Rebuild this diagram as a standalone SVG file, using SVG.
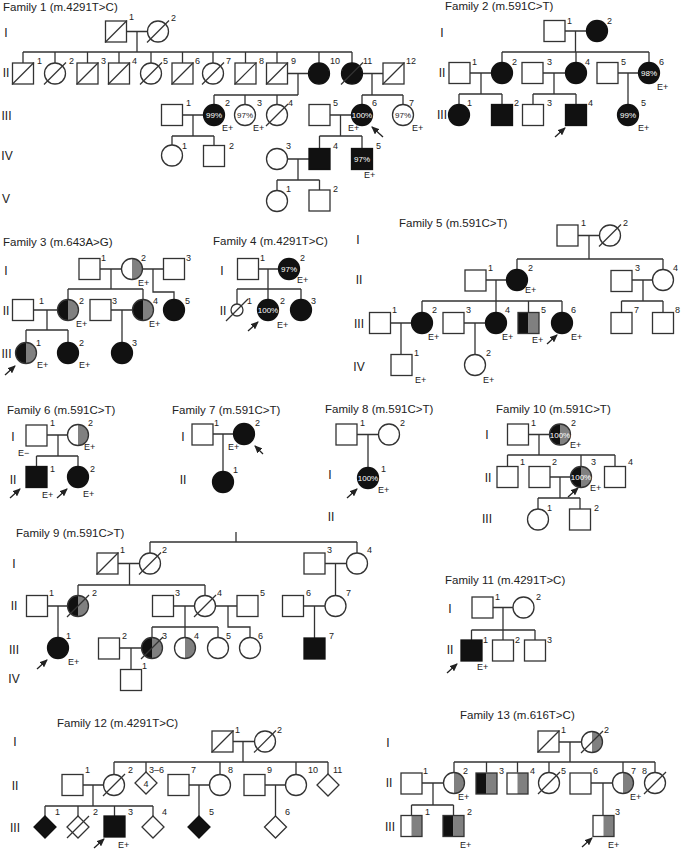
<svg xmlns="http://www.w3.org/2000/svg" width="681" height="849" viewBox="0 0 681 849">
<style>
.l{stroke:#333;stroke-width:1.3;fill:none}
.o{fill:#fff;stroke:#333;stroke-width:1.3}
.f{fill:#111;stroke:#111;stroke-width:1.3}
.ar{stroke:#222;stroke-width:1.3;marker-end:url(#ah)}
text{font-family:"Liberation Sans",Arial,Helvetica,sans-serif;fill:#222}
.ti{font-size:11.5px}
.gn{font-size:12px;text-anchor:middle}
.n{font-size:9px}
.p{font-size:8px;text-anchor:middle}
.w{fill:#fff}
</style>
<defs>
<marker id="ah" markerWidth="8" markerHeight="7" refX="7" refY="3.5" orient="auto" markerUnits="userSpaceOnUse"><path d="M0,0L8,3.5L0,7Z" fill="#222"/></marker>
<g id="sq"><rect x="-10.5" y="-10.5" width="21" height="21"/></g>
<g id="ci"><circle r="10.5"/></g>
<g id="di"><polygon points="0,-11 11,0 0,11 -11,0"/></g>
<g id="sl"><line x1="-11" y1="11" x2="11" y2="-11" stroke="#333" stroke-width="1.2"/></g>
<g id="cBG"><path d="M0,-10.5A10.5,10.5 0 0 0 0,10.5Z" fill="#111"/><path d="M0,-10.5A10.5,10.5 0 0 1 0,10.5Z" fill="#808080"/><circle r="10.5" fill="none" stroke="#333" stroke-width="1.3"/></g>
<g id="cWG"><circle r="10.5" fill="#fff"/><path d="M0,-10.5A10.5,10.5 0 0 1 0,10.5Z" fill="#808080"/><circle r="10.5" fill="none" stroke="#333" stroke-width="1.3"/></g>
<g id="sBG"><rect x="-10.5" y="-10.5" width="10.5" height="21" fill="#111"/><rect x="0" y="-10.5" width="10.5" height="21" fill="#808080"/><rect x="-10.5" y="-10.5" width="21" height="21" fill="none" stroke="#333" stroke-width="1.3"/></g>
<g id="sWG"><rect x="-10.5" y="-10.5" width="21" height="21" fill="#fff"/><rect x="0" y="-10.5" width="10.5" height="21" fill="#808080"/><rect x="-10.5" y="-10.5" width="21" height="21" fill="none" stroke="#333" stroke-width="1.3"/></g>
</defs>

<g id="titles">
<text class="ti" x="3" y="11">Family 1 (m.4291T&gt;C)</text>
<text class="ti" x="445" y="10">Family 2 (m.591C&gt;T)</text>
<text class="ti" x="3" y="246">Family 3 (m.643A&gt;G)</text>
<text class="ti" x="213" y="245">Family 4 (m.4291T&gt;C)</text>
<text class="ti" x="399" y="227">Family 5 (m.591C&gt;T)</text>
<text class="ti" x="7" y="414">Family 6 (m.591C&gt;T)</text>
<text class="ti" x="172" y="414">Family 7 (m.591C&gt;T)</text>
<text class="ti" x="325" y="413">Family 8 (m.591C&gt;T)</text>
<text class="ti" x="496" y="413">Family 10 (m.591C&gt;T)</text>
<text class="ti" x="16" y="537">Family 9 (m.591C&gt;T)</text>
<text class="ti" x="445" y="584">Family 11 (m.4291T&gt;C)</text>
<text class="ti" x="57" y="727">Family 12 (m.4291T&gt;C)</text>
<text class="ti" x="460" y="719">Family 13 (m.616T&gt;C)</text>
</g>

<g id="generations">
<text class="gn" x="6" y="37">I</text><text class="gn" x="6" y="77">II</text><text class="gn" x="6.5" y="119.5">III</text><text class="gn" x="7" y="159.5">IV</text><text class="gn" x="6" y="202.5">V</text>
<text class="gn" x="442" y="37">I</text><text class="gn" x="442" y="77">II</text><text class="gn" x="442" y="119">III</text>
<text class="gn" x="6" y="274.5">I</text><text class="gn" x="6" y="314.5">II</text><text class="gn" x="6.5" y="358">III</text>
<text class="gn" x="222" y="274.5">I</text><text class="gn" x="223" y="314.5">II</text>
<text class="gn" x="358" y="244">I</text><text class="gn" x="359" y="284">II</text><text class="gn" x="359" y="328">III</text><text class="gn" x="359" y="371">IV</text>
<text class="gn" x="13" y="441">I</text><text class="gn" x="13" y="484">II</text>
<text class="gn" x="183" y="441">I</text><text class="gn" x="183" y="484">II</text>
<text class="gn" x="330" y="479">I</text><text class="gn" x="331" y="521">II</text>
<text class="gn" x="487" y="439">I</text><text class="gn" x="488" y="482">II</text><text class="gn" x="487" y="523">III</text>
<text class="gn" x="14" y="568">I</text><text class="gn" x="14" y="610">II</text><text class="gn" x="14" y="654">III</text><text class="gn" x="14" y="683">IV</text>
<text class="gn" x="450" y="613">I</text><text class="gn" x="450" y="654">II</text>
<text class="gn" x="15" y="746">I</text><text class="gn" x="15" y="790">II</text><text class="gn" x="15" y="832">III</text>
<text class="gn" x="388" y="747">I</text><text class="gn" x="389" y="787">II</text><text class="gn" x="390" y="831">III</text>
</g>

<g id="connectors" class="l">
<path d="M127,31.5H148M137,31.5V52M23,52H352M23,52V63M55,52V63M87.5,52V63M119,52V63M151,52V63M182.5,52V63M213,52V63M245.5,52V63M277,52V63M319,52V63M352,52V63M362,73.5H383M372,73.5V95M362,95H403M362,95V104.5M403,95V104.5M287.5,73.5H308.5M298,73.5V95M214,95H298M214,95V104.5M245,95V104.5M277,95V104.5M182.5,115H203.5M193,115V136M172,136H214M172,136V145M214,136V145.5M330,115H351.5M340.5,115V136M319.5,136H362M319.5,136V148.5M362,136V148.5M287.5,159H309M298,159V180M277,180H319.5M277,180V190.5M319.5,180V190"/>
<path d="M565,31H586.5M575.5,31V52M502,52H649M502,52V62.5M576,52V62.5M649,52V62.5M470,73H491.5M481,73V94M459,94H502M459,94V104.5M502,94V104.5M543,73H565.5M554,73V94M533,94H576M533,94V104.5M576,94V104.5M618,73H638.5M628,73V104.5"/>
<path d="M100,269H121.5M142.5,269H163.5M111,269V289M68,289H143M68,289V299.5M143,289V299.5M153,269V292H174V299.5M33.5,310H57.5M47,310V330M26,330H68M26,330V342.5M68,330V342.5M111,310H132.5M122,310V342.5"/>
<path d="M258.5,269H278.5M268,269V289M237,289H301M237,289V304M268,289V299.5M301,289V299.5"/>
<path d="M578,235.5H599.5M589,235.5V259M517,259H663M517,259V269.5M663,259V269.5M486,280H506.5M496,280V301M422,301H562M422,301V312.5M496,301V312.5M528.5,301V312.5M562,301V312.5M632,280H652.5M643,280V301M621.5,301H663M621.5,301V312.5M663,301V312.5M390.5,323H411.5M401,323V354.5M464,323H485.5M475,323V354.5"/>
<path d="M47,435H67.5M58,435V456M36.5,456H78M36.5,456V466.5M78,456V466.5"/>
<path d="M213,434H233.5M223,434V471.5"/>
<path d="M357,434.5H378.5M368,434.5V467.5"/>
<path d="M528.5,434.5H549.5M539,434.5V455M507.5,455H615M507.5,455V466.5M581,455V466.5M615,455V466.5M550,477H570.5M560,477V498M538,498H580M538,498V509M580,498V509"/>
<path d="M236,532V542M150,542H357M150,542V553M357,542V553M118,563.5H139.5M129.5,563.5V585M78,585H205M78,585V595.5M205,585V595.5M325,563.5H346.5M335.5,563.5V595.5M47.5,606H67.5M58,606V637.5M173.5,606H194.5M185,606V627M152,627H218M152,627V637.5M185,627V637.5M218,627V637.5M215.5,606H237M228,606V627H250V637.5M303.5,606H325M314.5,606V638M119.5,648H141.5M131,648V669.5"/>
<path d="M493,607.5H513M503,607.5V630M471.5,630H535M471.5,630V640M503,630V640M535,630V640"/>
<path d="M233,741.5H254.5M243,741.5V762M114,762H328M114,762V774.5M146,762V772M220,762V774.5M296,762V774.5M328,762V774M83,785H103.5M93,785V806M45,806H153M45,806V816M78,806V816M114.5,806V816M153,806V816M189,785H209.5M199,785V816M265,785H285.5M275.5,785V816"/>
<path d="M559,742H581.5M570,742V762M454,762H655M454,762V772.5M486.5,762V772.5M517.5,762V772.5M549,762V772.5M623,762V772.5M655,762V772.5M422,783H443.5M433,783V805M411.5,805H453.5M411.5,805V815.5M453.5,805V815.5M591,783H612.5M603,783V815.5"/>
</g>

<g id="arrows">
<line class="ar" x1="383" y1="137" x2="372" y2="127"/>
<line class="ar" x1="555" y1="137" x2="565" y2="128"/>
<line class="ar" x1="5" y1="375" x2="15" y2="366"/>
<line class="ar" x1="248" y1="331" x2="258" y2="322"/>
<line class="ar" x1="547" y1="344" x2="557" y2="335"/>
<line class="ar" x1="10" y1="498" x2="20" y2="489"/>
<line class="ar" x1="57" y1="498" x2="67" y2="489"/>
<line class="ar" x1="263" y1="454" x2="255" y2="446"/>
<line class="ar" x1="347" y1="498" x2="357" y2="489"/>
<line class="ar" x1="568" y1="497" x2="578" y2="488"/>
<line class="ar" x1="37" y1="669" x2="47" y2="660"/>
<line class="ar" x1="447" y1="673" x2="457" y2="664"/>
<line class="ar" x1="94" y1="848" x2="104" y2="839"/>
<line class="ar" x1="582" y1="847" x2="592" y2="838"/>
</g>

<!-- Family 1 -->
<g id="f1-I-1"><use class="o" href="#sq" x="116" y="31.5"/><use href="#sl" x="116" y="31.5"/><text class="n" x="129" y="20">1</text></g>
<g id="f1-I-2"><use class="o" href="#ci" x="158" y="31.5"/><use href="#sl" x="158" y="31.5"/><text class="n" x="171" y="21">2</text></g>
<g id="f1-II-1"><use class="o" href="#sq" x="23" y="73.5"/><use href="#sl" x="23" y="73.5"/><text class="n" x="37" y="64">1</text></g>
<g id="f1-II-2"><use class="o" href="#ci" x="55" y="73.5"/><use href="#sl" x="55" y="73.5"/><text class="n" x="69" y="64">2</text></g>
<g id="f1-II-3"><use class="o" href="#sq" x="87.5" y="73.5"/><use href="#sl" x="87.5" y="73.5"/><text class="n" x="101" y="64">3</text></g>
<g id="f1-II-4"><use class="o" href="#sq" x="119" y="73.5"/><use href="#sl" x="119" y="73.5"/><text class="n" x="132" y="64">4</text></g>
<g id="f1-II-5"><use class="o" href="#ci" x="151" y="73.5"/><use href="#sl" x="151" y="73.5"/><text class="n" x="163" y="64">5</text></g>
<g id="f1-II-6"><use class="o" href="#sq" x="182.5" y="73.5"/><use href="#sl" x="182.5" y="73.5"/><text class="n" x="195" y="64">6</text></g>
<g id="f1-II-7"><use class="o" href="#ci" x="213" y="73.5"/><use href="#sl" x="213" y="73.5"/><text class="n" x="226" y="64">7</text></g>
<g id="f1-II-8"><use class="o" href="#sq" x="245.5" y="73.5"/><use href="#sl" x="245.5" y="73.5"/><text class="n" x="259" y="64">8</text></g>
<g id="f1-II-9"><use class="o" href="#sq" x="277" y="73.5"/><use href="#sl" x="277" y="73.5"/><text class="n" x="291" y="64">9</text></g>
<g id="f1-II-10"><use class="f" href="#ci" x="319" y="73.5"/><text class="n" x="330" y="64">10</text></g>
<g id="f1-II-11"><use class="f" href="#ci" x="352" y="73.5"/><use href="#sl" x="352" y="73.5"/><text class="n" x="363" y="64">11</text></g>
<g id="f1-II-12"><use class="o" href="#sq" x="393.5" y="73.5"/><use href="#sl" x="393.5" y="73.5"/><text class="n" x="406" y="64">12</text></g>
<g id="f1-III-1"><use class="o" href="#sq" x="172" y="115"/><text class="n" x="186" y="106">1</text></g>
<g id="f1-III-2"><use class="f" href="#ci" x="214" y="115"/><text class="p w" x="214" y="118">99%</text><text class="n" x="225" y="106">2</text><text class="n" x="222" y="131">E+</text></g>
<g id="f1-III-3"><use class="o" href="#ci" x="245" y="115"/><text class="p" x="245" y="118">97%</text><text class="n" x="257" y="106">3</text><text class="n" x="253" y="131">E+</text></g>
<g id="f1-III-4"><use class="o" href="#ci" x="277" y="115"/><use href="#sl" x="277" y="115"/><text class="n" x="288" y="106">4</text></g>
<g id="f1-III-5"><use class="o" href="#sq" x="319.5" y="115"/><text class="n" x="333" y="106">5</text></g>
<g id="f1-III-6"><use class="f" href="#ci" x="362" y="115"/><text class="p w" x="362" y="118">100%</text><text class="n" x="372" y="106">6</text><text class="n" x="348" y="131">E+</text></g>
<g id="f1-III-7"><use class="o" href="#ci" x="403" y="115"/><text class="p" x="403" y="118">97%</text><text class="n" x="409" y="106">7</text><text class="n" x="412" y="131">E+</text></g>
<g id="f1-IV-1"><use class="o" href="#ci" x="172" y="155.5"/><text class="n" x="182" y="149">1</text></g>
<g id="f1-IV-2"><use class="o" href="#sq" x="214" y="156"/><text class="n" x="229" y="149">2</text></g>
<g id="f1-IV-3"><use class="o" href="#ci" x="277" y="159"/><text class="n" x="286" y="149">3</text></g>
<g id="f1-IV-4"><use class="f" href="#sq" x="319.5" y="159"/><text class="n" x="333" y="149">4</text></g>
<g id="f1-IV-5"><use class="f" href="#sq" x="362" y="159"/><text class="p w" x="362" y="162">97%</text><text class="n" x="376" y="149">5</text><text class="n" x="364" y="178">E+</text></g>
<g id="f1-V-1"><use class="o" href="#ci" x="277" y="201"/><text class="n" x="286" y="192">1</text></g>
<g id="f1-V-2"><use class="o" href="#sq" x="319.5" y="200.5"/><text class="n" x="333" y="192">2</text></g>

<!-- Family 2 -->
<g id="f2-I-1"><use class="o" href="#sq" x="554.5" y="31"/><text class="n" x="567" y="24">1</text></g>
<g id="f2-I-2"><use class="f" href="#ci" x="597" y="31"/><text class="n" x="607" y="24">2</text></g>
<g id="f2-II-1"><use class="o" href="#sq" x="459.5" y="73"/><text class="n" x="472" y="65">1</text></g>
<g id="f2-II-2"><use class="f" href="#ci" x="502" y="73"/><text class="n" x="512" y="65">2</text></g>
<g id="f2-II-3"><use class="o" href="#sq" x="532.5" y="73"/><text class="n" x="547" y="65">3</text></g>
<g id="f2-II-4"><use class="f" href="#ci" x="576" y="73"/><text class="n" x="585" y="65">4</text></g>
<g id="f2-II-5"><use class="o" href="#sq" x="607.5" y="73"/><text class="n" x="621" y="65">5</text></g>
<g id="f2-II-6"><use class="f" href="#ci" x="649" y="73"/><text class="p w" x="649" y="76">98%</text><text class="n" x="659" y="65">6</text><text class="n" x="657" y="90">E+</text></g>
<g id="f2-III-1"><use class="f" href="#ci" x="459" y="115"/><text class="n" x="467" y="106">1</text></g>
<g id="f2-III-2"><use class="f" href="#sq" x="502" y="115"/><text class="n" x="514" y="106">2</text></g>
<g id="f2-III-3"><use class="o" href="#sq" x="533" y="115"/><text class="n" x="547" y="106">3</text></g>
<g id="f2-III-4"><use class="f" href="#sq" x="576" y="115"/><text class="n" x="588" y="106">4</text></g>
<g id="f2-III-5"><use class="f" href="#ci" x="628" y="115"/><text class="p w" x="628" y="118">99%</text><text class="n" x="641" y="106">5</text><text class="n" x="638" y="131">E+</text></g>

<!-- Family 3 -->
<g id="f3-I-1"><use class="o" href="#sq" x="89.5" y="269"/><text class="n" x="101" y="261">1</text></g>
<g id="f3-I-2"><use href="#cWG" x="132" y="269"/><text class="n" x="141" y="261">2</text><text class="n" x="138" y="286">E+</text></g>
<g id="f3-I-3"><use class="o" href="#sq" x="174" y="269"/><text class="n" x="186" y="261">3</text></g>
<g id="f3-II-1"><use class="o" href="#sq" x="23" y="310"/><text class="n" x="39" y="304">1</text></g>
<g id="f3-II-2"><use href="#cBG" x="68" y="310"/><text class="n" x="79" y="304">2</text><text class="n" x="76" y="327">E+</text></g>
<g id="f3-II-3"><use class="o" href="#sq" x="100.5" y="310"/><text class="n" x="112" y="304">3</text></g>
<g id="f3-II-4"><use href="#cBG" x="143" y="310"/><text class="n" x="153" y="304">4</text><text class="n" x="149" y="327">E+</text></g>
<g id="f3-II-5"><use class="f" href="#ci" x="174" y="310"/><text class="n" x="185" y="304">5</text></g>
<g id="f3-III-1"><use href="#cBG" x="26" y="353"/><text class="n" x="36" y="346">1</text><text class="n" x="37" y="368">E+</text></g>
<g id="f3-III-2"><use class="f" href="#ci" x="68" y="353"/><text class="n" x="79" y="346">2</text><text class="n" x="79" y="368">E+</text></g>
<g id="f3-III-3"><use class="f" href="#ci" x="122" y="353"/><text class="n" x="132" y="346">3</text></g>

<!-- Family 4 -->
<g id="f4-I-1"><use class="o" href="#sq" x="248" y="269"/><text class="n" x="260" y="261">1</text></g>
<g id="f4-I-2"><use class="f" href="#ci" x="289" y="269"/><text class="p w" x="289" y="272">97%</text><text class="n" x="300" y="261">2</text><text class="n" x="297" y="283">E+</text></g>
<g id="f4-II-1"><circle class="o" cx="237" cy="310" r="6"/><use href="#sl" x="237" y="310"/><text class="n" x="247" y="304">1</text></g>
<g id="f4-II-2"><use class="f" href="#ci" x="268" y="310"/><text class="p w" x="268" y="313">100%</text><text class="n" x="280" y="304">2</text><text class="n" x="277" y="328">E+</text></g>
<g id="f4-II-3"><use class="f" href="#ci" x="301" y="310"/><text class="n" x="311" y="304">3</text></g>

<!-- Family 5 -->
<g id="f5-I-1"><use class="o" href="#sq" x="567.5" y="235.5"/><text class="n" x="581" y="226">1</text></g>
<g id="f5-I-2"><use class="o" href="#ci" x="610" y="235.5"/><use href="#sl" x="610" y="235.5"/><text class="n" x="623" y="226">2</text></g>
<g id="f5-II-1"><use class="o" href="#sq" x="475.5" y="280.5"/><text class="n" x="488" y="271">1</text></g>
<g id="f5-II-2"><use class="f" href="#ci" x="517" y="280"/><text class="n" x="528" y="271">2</text><text class="n" x="525" y="293">E+</text></g>
<g id="f5-II-3"><use class="o" href="#sq" x="621.5" y="281"/><text class="n" x="635" y="271">3</text></g>
<g id="f5-II-4"><use class="o" href="#ci" x="663" y="280"/><text class="n" x="673" y="271">4</text></g>
<g id="f5-III-1"><use class="o" href="#sq" x="380" y="323"/><text class="n" x="392" y="313">1</text></g>
<g id="f5-III-2"><use class="f" href="#ci" x="422" y="323"/><text class="n" x="432" y="313">2</text><text class="n" x="428" y="340">E+</text></g>
<g id="f5-III-3"><use class="o" href="#sq" x="453.5" y="323"/><text class="n" x="466" y="313">3</text></g>
<g id="f5-III-4"><use class="f" href="#ci" x="496" y="323"/><text class="n" x="505" y="313">4</text><text class="n" x="502" y="340">E+</text></g>
<g id="f5-III-5"><use href="#sBG" x="528.5" y="323"/><text class="n" x="541" y="313">5</text><text class="n" x="532" y="343">E+</text></g>
<g id="f5-III-6"><use class="f" href="#ci" x="562" y="323"/><text class="n" x="571" y="313">6</text><text class="n" x="571" y="340">E+</text></g>
<g id="f5-III-7"><use class="o" href="#sq" x="621.5" y="323"/><text class="n" x="634" y="313">7</text></g>
<g id="f5-III-8"><use class="o" href="#sq" x="663" y="323"/><text class="n" x="675" y="313">8</text></g>
<g id="f5-IV-1"><use class="o" href="#sq" x="401.5" y="365"/><text class="n" x="414" y="356">1</text><text class="n" x="415" y="383">E+</text></g>
<g id="f5-IV-2"><use class="o" href="#ci" x="475" y="365"/><text class="n" x="486" y="356">2</text><text class="n" x="483" y="383">E+</text></g>

<!-- Family 6 -->
<g id="f6-I-1"><use class="o" href="#sq" x="36.5" y="435.5"/><text class="n" x="50" y="426">1</text><text class="n" x="18" y="456">E−</text></g>
<g id="f6-I-2"><use href="#cWG" x="78" y="435"/><text class="n" x="88" y="426">2</text><text class="n" x="84" y="450">E+</text></g>
<g id="f6-II-1"><use class="f" href="#sq" x="36.5" y="477"/><text class="n" x="50" y="472">1</text><text class="n" x="42" y="498">E+</text></g>
<g id="f6-II-2"><use class="f" href="#ci" x="78" y="477"/><text class="n" x="90" y="472">2</text><text class="n" x="83" y="497">E+</text></g>

<!-- Family 7 -->
<g id="f7-I-1"><use class="o" href="#sq" x="202.5" y="434.5"/><text class="n" x="214" y="426">1</text></g>
<g id="f7-I-2"><use class="f" href="#ci" x="244" y="434"/><text class="n" x="255" y="426">2</text><text class="n" x="228" y="450">E+</text></g>
<g id="f7-II-1"><use class="f" href="#ci" x="223" y="482"/><text class="n" x="233" y="473">1</text></g>

<!-- Family 8 -->
<g id="f8-I-1"><use class="o" href="#sq" x="346.5" y="434.5"/><text class="n" x="360" y="426">1</text></g>
<g id="f8-I-2"><use class="o" href="#ci" x="389" y="434.5"/><text class="n" x="400" y="426">2</text></g>
<g id="f8-II-1"><use class="f" href="#ci" x="368" y="478"/><text class="p w" x="368" y="481">100%</text><text class="n" x="381" y="472">1</text><text class="n" x="378" y="493">E+</text></g>

<!-- Family 10 -->
<g id="f10-I-1"><use class="o" href="#sq" x="518" y="434.5"/><text class="n" x="531" y="426">1</text></g>
<g id="f10-I-2"><use href="#cBG" x="560" y="434.5"/><text class="p w" x="560" y="437.5">100%</text><text class="n" x="571" y="426">2</text><text class="n" x="570" y="448">E+</text></g>
<g id="f10-II-1"><use class="o" href="#sq" x="507.5" y="477"/><text class="n" x="520" y="465">1</text></g>
<g id="f10-II-2"><use class="o" href="#sq" x="539.5" y="477"/><text class="n" x="552" y="465">2</text></g>
<g id="f10-II-3"><use href="#cBG" x="581" y="477"/><text class="p w" x="581" y="480">100%</text><text class="n" x="591" y="465">3</text><text class="n" x="590" y="491">E+</text></g>
<g id="f10-II-4"><use class="o" href="#sq" x="615" y="477"/><text class="n" x="628" y="465">4</text></g>
<g id="f10-III-1"><use class="o" href="#ci" x="538" y="519.5"/><text class="n" x="547" y="511">1</text></g>
<g id="f10-III-2"><use class="o" href="#sq" x="580" y="519.5"/><text class="n" x="594" y="511">2</text></g>

<!-- Family 9 -->
<g id="f9-I-1"><use class="o" href="#sq" x="107.5" y="563.5"/><use href="#sl" x="107.5" y="563.5"/><text class="n" x="120" y="553">1</text></g>
<g id="f9-I-2"><use class="o" href="#ci" x="150" y="563.5"/><use href="#sl" x="150" y="563.5"/><text class="n" x="162" y="553">2</text></g>
<g id="f9-I-3"><use class="o" href="#sq" x="314.5" y="563.5"/><text class="n" x="327" y="553">3</text></g>
<g id="f9-I-4"><use class="o" href="#ci" x="357" y="563.5"/><text class="n" x="367" y="553">4</text></g>
<g id="f9-II-1"><use class="o" href="#sq" x="37" y="606"/><text class="n" x="49" y="596">1</text></g>
<g id="f9-II-2"><use href="#cBG" x="78" y="606"/><use href="#sl" x="78" y="606"/><text class="n" x="92" y="596">2</text></g>
<g id="f9-II-3"><use class="o" href="#sq" x="163" y="606"/><text class="n" x="175" y="596">3</text></g>
<g id="f9-II-4"><use class="o" href="#ci" x="205" y="606"/><use href="#sl" x="205" y="606"/><text class="n" x="217" y="596">4</text></g>
<g id="f9-II-5"><use class="o" href="#sq" x="247.5" y="606"/><text class="n" x="260" y="596">5</text></g>
<g id="f9-II-6"><use class="o" href="#sq" x="293" y="606"/><text class="n" x="306" y="596">6</text></g>
<g id="f9-II-7"><use class="o" href="#ci" x="335.5" y="606"/><text class="n" x="346" y="596">7</text></g>
<g id="f9-III-1"><use class="f" href="#ci" x="58" y="648"/><text class="n" x="66" y="639">1</text><text class="n" x="68" y="665">E+</text></g>
<g id="f9-III-2"><use class="o" href="#sq" x="109" y="648.5"/><text class="n" x="122" y="639">2</text></g>
<g id="f9-III-3"><use href="#cBG" x="152" y="648"/><use href="#sl" x="152" y="648"/><text class="n" x="162" y="639">3</text></g>
<g id="f9-III-4"><use href="#cWG" x="185" y="648"/><text class="n" x="194" y="639">4</text></g>
<g id="f9-III-5"><use class="o" href="#ci" x="218" y="648"/><text class="n" x="226" y="639">5</text></g>
<g id="f9-III-6"><use class="o" href="#ci" x="250" y="648"/><text class="n" x="258" y="639">6</text></g>
<g id="f9-III-7"><use class="f" href="#sq" x="314.5" y="648.5"/><text class="n" x="329" y="639">7</text></g>
<g id="f9-IV-1"><use class="o" href="#sq" x="131" y="680"/><text class="n" x="142" y="669">1</text></g>

<!-- Family 11 -->
<g id="f11-I-1"><use class="o" href="#sq" x="482.5" y="607.5"/><text class="n" x="495" y="600">1</text></g>
<g id="f11-I-2"><use class="o" href="#ci" x="523.5" y="607.5"/><text class="n" x="536" y="600">2</text></g>
<g id="f11-II-1"><use class="f" href="#sq" x="471.5" y="650.5"/><text class="n" x="483" y="643">1</text><text class="n" x="477" y="670">E+</text></g>
<g id="f11-II-2"><use class="o" href="#sq" x="503" y="650.5"/><text class="n" x="515" y="643">2</text></g>
<g id="f11-II-3"><use class="o" href="#sq" x="535" y="650.5"/><text class="n" x="547" y="643">3</text></g>

<!-- Family 12 -->
<g id="f12-I-1"><use class="o" href="#sq" x="222.5" y="741.5"/><use href="#sl" x="222.5" y="741.5"/><text class="n" x="235" y="733">1</text></g>
<g id="f12-I-2"><use class="o" href="#ci" x="265" y="741.5"/><use href="#sl" x="265" y="741.5"/><text class="n" x="277" y="733">2</text></g>
<g id="f12-II-1"><use class="o" href="#sq" x="72.5" y="785"/><text class="n" x="85" y="773">1</text></g>
<g id="f12-II-2"><use class="o" href="#ci" x="114" y="785"/><use href="#sl" x="114" y="785"/><text class="n" x="128" y="773">2</text></g>
<g id="f12-II-3-6"><use class="o" href="#di" x="146" y="783"/><text class="n" x="146" y="786.5" text-anchor="middle">4</text><text class="n" x="149" y="773">3–6</text></g>
<g id="f12-II-7"><use class="o" href="#sq" x="178.5" y="785"/><text class="n" x="191" y="773">7</text></g>
<g id="f12-II-8"><use class="o" href="#ci" x="220" y="785"/><text class="n" x="228" y="773">8</text></g>
<g id="f12-II-9"><use class="o" href="#sq" x="254.5" y="785"/><text class="n" x="267" y="773">9</text></g>
<g id="f12-II-10"><use class="o" href="#ci" x="296" y="785"/><text class="n" x="308" y="773">10</text></g>
<g id="f12-II-11"><use class="o" href="#di" x="328" y="785"/><text class="n" x="333" y="773">11</text></g>
<g id="f12-III-1"><use class="f" href="#di" x="45" y="827"/><text class="n" x="55" y="815">1</text></g>
<g id="f12-III-2"><use class="o" href="#di" x="78" y="827"/><use href="#sl" x="78" y="827"/><text class="n" x="93" y="815">2</text></g>
<g id="f12-III-3"><use class="f" href="#sq" x="114.5" y="826.5"/><text class="n" x="128" y="815">3</text><text class="n" x="118" y="848">E+</text></g>
<g id="f12-III-4"><use class="o" href="#di" x="153" y="827"/><text class="n" x="162" y="815">4</text></g>
<g id="f12-III-5"><use class="f" href="#di" x="199" y="827"/><text class="n" x="209" y="815">5</text></g>
<g id="f12-III-6"><use class="o" href="#di" x="275.5" y="827"/><text class="n" x="285" y="815">6</text></g>

<!-- Family 13 -->
<g id="f13-I-1"><use class="o" href="#sq" x="548.5" y="741.5"/><use href="#sl" x="548.5" y="741.5"/><text class="n" x="561" y="733">1</text></g>
<g id="f13-I-2"><use href="#cWG" x="592" y="742"/><use href="#sl" x="592" y="742"/><text class="n" x="604" y="733">2</text></g>
<g id="f13-II-1"><use class="o" href="#sq" x="411.5" y="783.5"/><text class="n" x="423" y="774">1</text></g>
<g id="f13-II-2"><use href="#cWG" x="454" y="783"/><text class="n" x="463" y="774">2</text><text class="n" x="458" y="800">E+</text></g>
<g id="f13-II-3"><use href="#sBG" x="486.5" y="783.5"/><text class="n" x="499" y="774">3</text></g>
<g id="f13-II-4"><use href="#sWG" x="517.5" y="783.5"/><text class="n" x="530" y="774">4</text></g>
<g id="f13-II-5"><use class="o" href="#ci" x="549" y="783"/><use href="#sl" x="549" y="783"/><text class="n" x="561" y="774">5</text></g>
<g id="f13-II-6"><use class="o" href="#sq" x="580.5" y="783.5"/><text class="n" x="593" y="774">6</text></g>
<g id="f13-II-7"><use href="#cWG" x="623" y="783"/><text class="n" x="631" y="774">7</text><text class="n" x="630" y="800">E+</text></g>
<g id="f13-II-8"><use class="o" href="#ci" x="655" y="783"/><use href="#sl" x="655" y="783"/><text class="n" x="642" y="774">8</text></g>
<g id="f13-III-1"><use href="#sWG" x="411.5" y="826"/><text class="n" x="425" y="815">1</text></g>
<g id="f13-III-2"><use href="#sBG" x="453.5" y="826"/><text class="n" x="467" y="815">2</text><text class="n" x="460" y="848">E+</text></g>
<g id="f13-III-3"><use href="#sWG" x="603.5" y="826"/><text class="n" x="615" y="815">3</text><text class="n" x="608" y="848">E+</text></g>
</svg>
